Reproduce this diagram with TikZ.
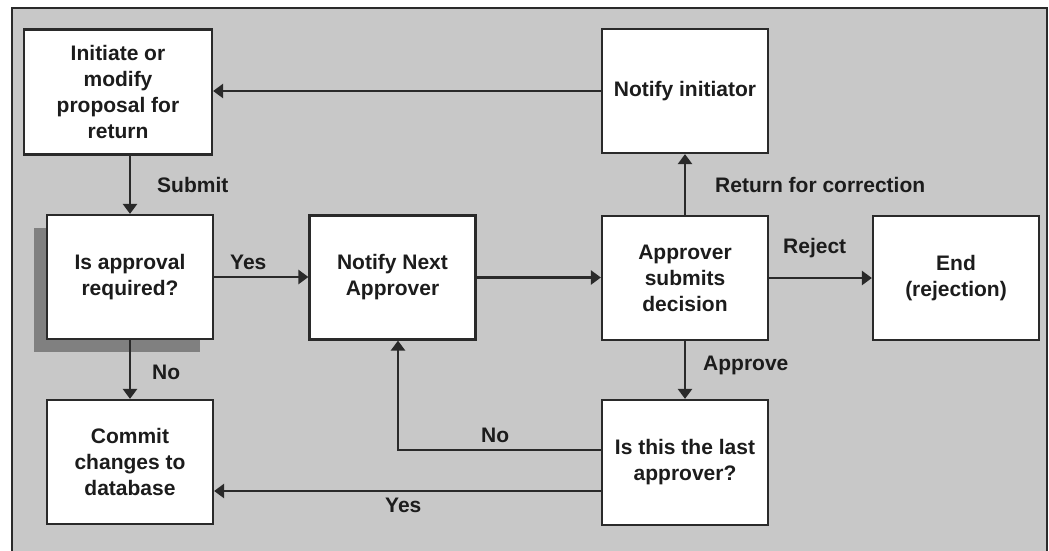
\documentclass[tikz,border=0pt]{standalone}
\usepackage{fontspec}
\setmainfont{Liberation Sans}
\usetikzlibrary{arrows.meta,shadows}
\definecolor{bggray}{HTML}{C8C8C8}
\definecolor{shadowgray}{HTML}{808080}
\definecolor{linecol}{HTML}{2A2A2A}
\definecolor{textcol}{HTML}{1C1C1C}
\begin{document}
\begin{tikzpicture}[x=1pt,y=-1pt,
  every node/.style={font=\bfseries\fontsize{21}{26}\selectfont, text=textcol},
  box/.style={draw=linecol, line width=2.2pt, fill=white, align=center,
    minimum width=166pt, minimum height=124pt, inner sep=0pt},
  arr/.style={draw=linecol, line width=2.6pt, -{Triangle[length=10pt,width=14pt]}},
  lbl/.style={anchor=west, inner sep=0pt}
]
\useasboundingbox (0,0) rectangle (1049,550);
\fill[bggray] (12,8) rectangle (1047,551);
\draw[linecol, line width=2.2pt] (12,551) -- (12,8) -- (1047,8) -- (1047,551);

\node[box, minimum width=188pt, minimum height=125pt] (init) at (118,92) {Initiate or\\modify\\proposal for\\return};
\node[box] (notinit) at (685,91) {Notify initiator};
\node[box, drop shadow={shadow xshift=-13pt, shadow yshift=-12.5pt, fill=shadowgray, opacity=1, draw=none}] (approval) at (130,277) {Is approval\\required?};
\node[box] (next) at (392.5,277.5) {Notify Next\\Approver};
\node[box] (decision) at (685,278) {Approver\\submits\\decision};
\node[box] (end) at (956,278) {End\\(rejection)};
\node[box] (commit) at (130,462) {Commit\\changes to\\database};
\node[box, minimum height=125pt] (last) at (685,462.5) {Is this the last\\approver?};

\draw[arr] (notinit.west) -- (notinit.west -| init.east);
\draw[arr] (approval.north |- init.south) -- (approval.north);
\draw[arr] (approval.east) -- (approval.east -| next.west);
\draw[arr] (next.east) -- (next.east -| decision.west);
\draw[arr] (decision.north) -- (notinit.south);
\draw[arr] (decision.east) -- (end.west);
\draw[arr] (decision.south) -- (last.north);
\draw[arr] (approval.south) -- (commit.north);
\draw[arr] ([yshift=12.5pt]last.west) -| ([xshift=5.5pt]next.south);
\draw[arr] ([yshift=-28.5pt]last.west) coordinate (ys) -- (ys -| commit.east);

\node[lbl] (lsubmit) at (157,185) {Submit};
\node[lbl] (lyes1) at (230,262) {Yes};
\node[lbl] (lno1) at (152,372) {No};
\node[lbl] (lreturn) at (715,185) {Return for correction};
\node[lbl] (lreject) at (783,248) {Reject};
\node[lbl] (lapprove) at (703,365) {Approve};
\node[lbl] (lno2) at (481,435) {No};
\node[lbl] (lyes2) at (385,505) {Yes};
\end{tikzpicture}
\end{document}
